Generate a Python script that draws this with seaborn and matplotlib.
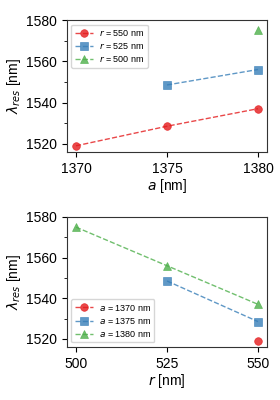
import matplotlib
matplotlib.use("Agg")
import matplotlib.pyplot as plt
from matplotlib.ticker import MultipleLocator
import seaborn as sns
import pandas as pd

# Resonance wavelength data [nm]
a_vals = [1370, 1375, 1380]
r_vals = [550, 525, 500]
lam_r550 = [1519.0, 1528.5, 1537.0]   # vs a
lam_r525 = [None, 1548.5, 1556.0]
lam_r500 = [None, None, 1575.0]

colors = ["#e41a1c", "#377eb8", "#4daf4a"]
markers = ["o", "s", "^"]

rows = []
for r, lam in zip(r_vals, [lam_r550, lam_r525, lam_r500]):
    for a, l in zip(a_vals, lam):
        if l is not None:
            rows.append({"a": a, "r": r, "lam": l})
df = pd.DataFrame(rows)

sns.set_style("ticks")
plt.rcParams["font.family"] = ["Liberation Sans", "DejaVu Sans"]
plt.rcParams["mathtext.fontset"] = "dejavusans"
plt.rcParams["text.color"] = "black"
plt.rcParams["axes.labelcolor"] = "black"
plt.rcParams["xtick.color"] = "black"
plt.rcParams["ytick.color"] = "black"

fig = plt.figure(figsize=(2.8, 4.0), dpi=100)
ax1 = fig.add_axes([0.239, 0.62, 0.715, 0.33])
ax2 = fig.add_axes([0.239, 0.1325, 0.715, 0.325])


def style_axis(ax):
    ax.set_ylim(1516, 1580)
    ax.yaxis.set_major_locator(MultipleLocator(20))
    ax.yaxis.set_minor_locator(MultipleLocator(10))
    ax.tick_params(axis="both", which="major", labelsize=10, length=3.5, width=0.8)
    ax.tick_params(axis="y", which="minor", length=2, width=0.6)
    for s in ax.spines.values():
        s.set_linewidth(0.8)
        s.set_color("#333333")
    ax.set_ylabel(r"$\lambda_{res}$ [nm]", fontsize=10, labelpad=2)


# ---------------- Top: lambda vs a ----------------
for r, c, m in zip(r_vals, colors, markers):
    sub = df[df["r"] == r]
    sns.lineplot(data=sub, x="a", y="lam", ax=ax1, color=c, marker=m,
                 linestyle="--", linewidth=1, markersize=5.5, markeredgewidth=0.5,
                 markeredgecolor=c, alpha=0.8, label=f"$r$ = {r} nm")
ax1.set_xticks(a_vals)
ax1.set_xlim(1369.5, 1380.5)
ax1.set_xlabel(r"$a$ [nm]", fontsize=10, labelpad=1)
style_axis(ax1)
ax1.legend(loc="upper left", fontsize=6.5, handlelength=2, borderpad=0.4,
           labelspacing=0.35, handletextpad=0.6, framealpha=0.8)

# ---------------- Bottom: lambda vs r ----------------
for a, c, m in zip(a_vals, colors, markers):
    sub = df[df["a"] == a]
    sns.lineplot(data=sub, x="r", y="lam", ax=ax2, color=c, marker=m,
                 linestyle="--", linewidth=1, markersize=5.5, markeredgewidth=0.5,
                 markeredgecolor=c, alpha=0.8, label=f"$a$ = {a} nm")
ax2.set_xticks([500, 525, 550])
ax2.set_xlim(497.5, 552.5)
ax2.set_xlabel(r"$r$ [nm]", fontsize=10, labelpad=1)
style_axis(ax2)
ax2.legend(loc="lower left", fontsize=6.5, handlelength=2, borderpad=0.4,
           labelspacing=0.35, handletextpad=0.6, framealpha=0.8)

fig.savefig("out.png", dpi=100)
